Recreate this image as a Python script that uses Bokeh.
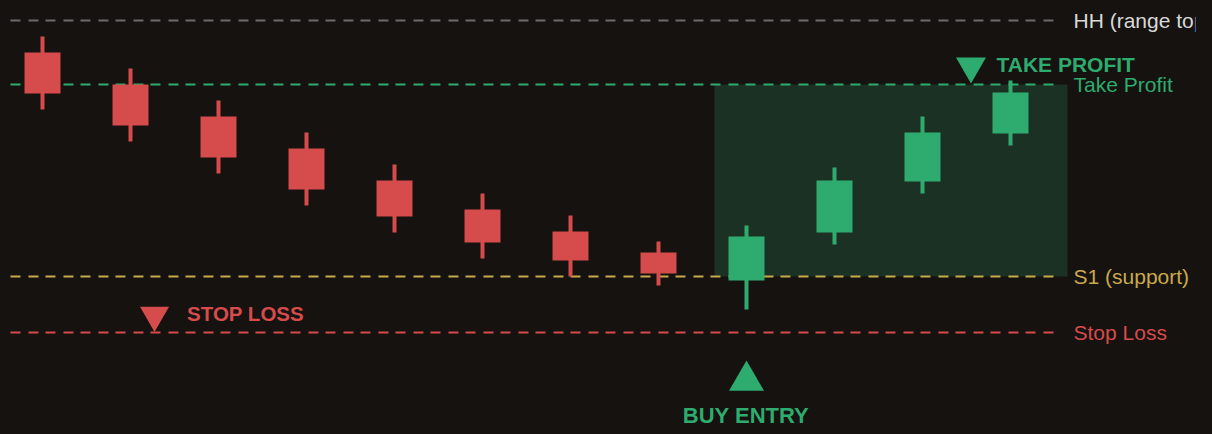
from bokeh.plotting import figure
from bokeh.models import ColumnDataSource, Range1d
from bokeh.core.properties import value
from bokeh.embed import file_html
from bokeh.resources import INLINE

# ---------------- data ----------------
candle_idx = list(range(12))
opens  = [116.0, 112.0, 108.0, 104.0, 100.0, 96.375, 93.625, 91.0, 87.5, 93.5, 99.875, 105.875]
closes = [110.875, 106.875, 102.875, 98.875, 95.5, 92.25, 90.0, 88.375, 93.0, 100.0, 106.0, 111.0]
highs  = [118.0, 114.0, 110.0, 106.0, 102.0, 98.375, 95.625, 92.375, 94.375, 101.625, 108.0, 112.5]
lows   = [108.875, 104.875, 100.875, 96.875, 93.5, 90.25, 88.0, 86.875, 83.875, 92.0, 98.375, 104.375]

level_names  = ["HH (range top)", "Take Profit", "S1 (support)", "Stop Loss"]
level_values = [120.0, 112.0, 88.0, 81.0]
level_colors = ["#6b6b6b", "#2eab6e", "#c9a94c", "#d64b4b"]
label_colors = ["#d9d9d9", "#2eab6e", "#c9a94c", "#d64b4b"]

entry_index = 8
tp_marker_x = 10.551
sl_marker_x = 1.273

# ---------------- styling ----------------
BG = "#15120f"
RED = "#d64b4b"
GREEN = "#2eab6e"
W, H = 1212, 434
CLIP_RIGHT = 17
PX_X = 88.0   # pixels per candle
PX_Y = 8.0    # pixels per price unit
x0 = -42.0 / PX_X
y1 = level_values[0] + 20.0 / PX_Y
FW = W - CLIP_RIGHT

p = figure(width=W, height=H, output_backend="svg", toolbar_location=None,
           x_range=Range1d(x0, x0 + FW / PX_X), y_range=Range1d(y1 - H / PX_Y, y1),
           min_border=0, min_border_right=CLIP_RIGHT,
           background_fill_color=BG, border_fill_color=BG,
           outline_line_color=None)
p.styles = {"background-color": BG}
p.axis.visible = False
p.grid.visible = False

# trade zone
p.quad(left=[entry_index - 0.364], right=[len(candle_idx) - 1 + 0.648],
       top=[level_values[1]], bottom=[level_values[2]],
       fill_color="#1b3124", line_color=None)

# levels
line_start = -0.364
line_end = len(candle_idx) - 1 + 0.545
p.segment(x0=[line_start] * 4, x1=[line_end] * 4, y0=level_values, y1=level_values,
          line_color=level_colors, line_width=2, line_dash="10 8 10 7")
p.text(x=[line_end + 0.171] * 4, y=level_values, text=level_names,
       text_color=label_colors, text_font=value("Liberation Sans"),
       text_font_size="21px", text_baseline="middle", text_align="left")

# candles
cols = [RED if c < o else GREEN for o, c in zip(opens, closes)]
src = ColumnDataSource(dict(x=candle_idx, o=opens, c=closes, h=highs, l=lows,
                            top=[max(a, b) for a, b in zip(opens, closes)],
                            bot=[min(a, b) for a, b in zip(opens, closes)], col=cols))
p.vbar(x="x", width=4 / PX_X, top="h", bottom="l", fill_color="col", line_color=None, source=src)
p.vbar(x="x", width=36 / PX_X, top="top", bottom="bot", fill_color="col", line_color=None, source=src)

# markers
p.scatter(x=[tp_marker_x], y=[level_values[1] + 2.29], marker="inverted_triangle",
          size=30, fill_color=GREEN, line_color=None)
p.scatter(x=[sl_marker_x], y=[level_values[3] + 2.16], marker="inverted_triangle",
          size=29, fill_color=RED, line_color=None)
p.scatter(x=[entry_index], y=[level_values[3] - 6.025], marker="triangle",
          size=35, fill_color=GREEN, line_color=None)

bold = dict(text_font=value("Liberation Sans"), text_font_style="bold", text_baseline="middle")
p.text(x=[tp_marker_x + 0.29], y=[level_values[1] + 2.5], text=["TAKE PROFIT"],
       text_color=GREEN, text_align="left", text_font_size="21px", **bold)
p.text(x=[sl_marker_x + 0.37], y=[level_values[3] + 2.375], text=["STOP LOSS"],
       text_color=RED, text_align="left", text_font_size="20.5px", **bold)
p.text(x=[entry_index - 0.006], y=[level_values[3] - 10.35], text=["BUY ENTRY"],
       text_color=GREEN, text_align="center", text_font_size="22px", **bold)

html = file_html(p, INLINE)
open("out.html", "w").write(html)
